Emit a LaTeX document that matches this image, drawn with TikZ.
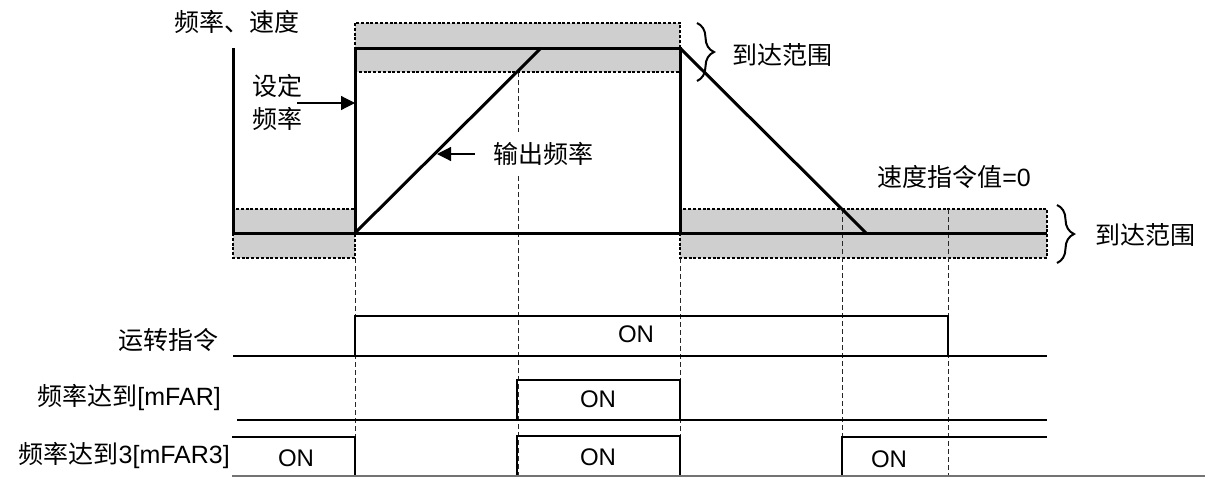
\documentclass[tikz,border=0pt]{standalone}
\usepackage{fontspec}
\setmainfont{Liberation Sans}
\newfontfamily\cjk{Noto Sans CJK SC}
\usetikzlibrary{arrows.meta,decorations.pathreplacing}
\begin{document}
\begin{tikzpicture}[x=1pt,y=-1pt,
  band/.style={fill=black!19,draw=black,line width=1.8pt,dash pattern=on 3pt off 1.8pt},
  guide/.style={draw=black!85,line width=1pt,dash pattern=on 5pt off 3pt},
  thickline/.style={line width=3pt,line join=miter},
  boxline/.style={line width=2.2pt},
  thinline/.style={line width=1.2pt},
  arr/.style={line width=1.2pt,-{Triangle[length=14pt,width=14pt]}},
  brc/.style={decorate,decoration={brace,amplitude=17pt},line width=2pt},
  lbl/.style={inner sep=0pt,font=\fontsize{25}{33}\selectfont},
  onl/.style={inner sep=0pt,font=\fontsize{24}{28}\selectfont}
]
\useasboundingbox (0,0) rectangle (1205,477);
% reach bands
\path[band] (233,209) rectangle (355,258);
\path[band] (355,23) rectangle (680,72);
\path[band] (680,209) rectangle (1047,258);
% guides
\draw[guide] (355,258) -- (355,477);
\draw[guide] (518,72) -- (518,477);
\draw[guide] (680,258) -- (680,477);
\draw[guide] (842,209) -- (842,477);
\draw[guide] (948,209) -- (948,477);
% graph
\draw[thickline] (233,48) -- (233,233) -- (1047,233);
\draw[thickline] (355,233) -- (355,48) -- (680,48) -- (680,233);
\draw[thickline] (355,233) -- (541,48);
\draw[thickline] (680,48) -- (866,233);
% braces
\draw[brc] (697,23) -- (697,81);
\draw[brc] (1057,205) -- (1057,263);
% labels top
\node[lbl] (axis) at (237,22) {\cjk 频率、速度};
\node[lbl,align=center] (setf) at (277,102) {\cjk 设定\\\cjk 频率};
\coordinate (sfTip) at (355,103);
\draw[arr] ([xshift=-5pt]setf.east |- sfTip) -- (sfTip);
\node[lbl,anchor=west,fill=white,inner ysep=10pt,inner xsep=2pt] (outf) at (491,154) {\cjk 输出频率};
\coordinate (ofTail) at (475,154);
\coordinate (ofTip) at (437,154);
\draw[arr] (ofTail) -- (ofTip);
\node[lbl,anchor=west] (reach1) at (732,55) {\cjk 到达范围};
\node[lbl,anchor=west] (reach2) at (1095,235) {\cjk 到达范围};
\node[lbl] (zero) at (954,177) {{\cjk 速度指令值}=0};
% timing rows
\node[lbl,anchor=east] (r1) at (219,340) {\cjk 运转指令};
\node[lbl,anchor=east] (r2) at (221,397) {{\cjk 频率达到}[mFAR]};
\node[lbl,anchor=east] (r3) at (230,455) {{\cjk 频率达到}3[mFAR3]};
% row 1
\draw[thinline] (233,356) -- (1047,356);
\draw[boxline,line width=2.6pt] (355,316) rectangle (948,356);
\node[onl] (on1) at (636,334) {ON};
% row 2
\draw[thinline] (237,420) -- (1047,420);
\draw[boxline] (517,380) rectangle (680,420);
\node[onl] (on2) at (598,399) {ON};
% row 3
\draw[thinline] (232,437) -- (355,437) -- (355,477);
\draw[boxline] (517,477) -- (517,436) -- (680,436) -- (680,477);
\draw[thinline] (842,477) -- (842,437) -- (1047,437);
\draw[line width=1.4pt,draw=black!55] (232,476) -- (1205,476);
\node[onl] (on3a) at (296,458) {ON};
\node[onl] (on3b) at (598,457) {ON};
\node[onl] (on3c) at (889,459) {ON};
\end{tikzpicture}
\end{document}
